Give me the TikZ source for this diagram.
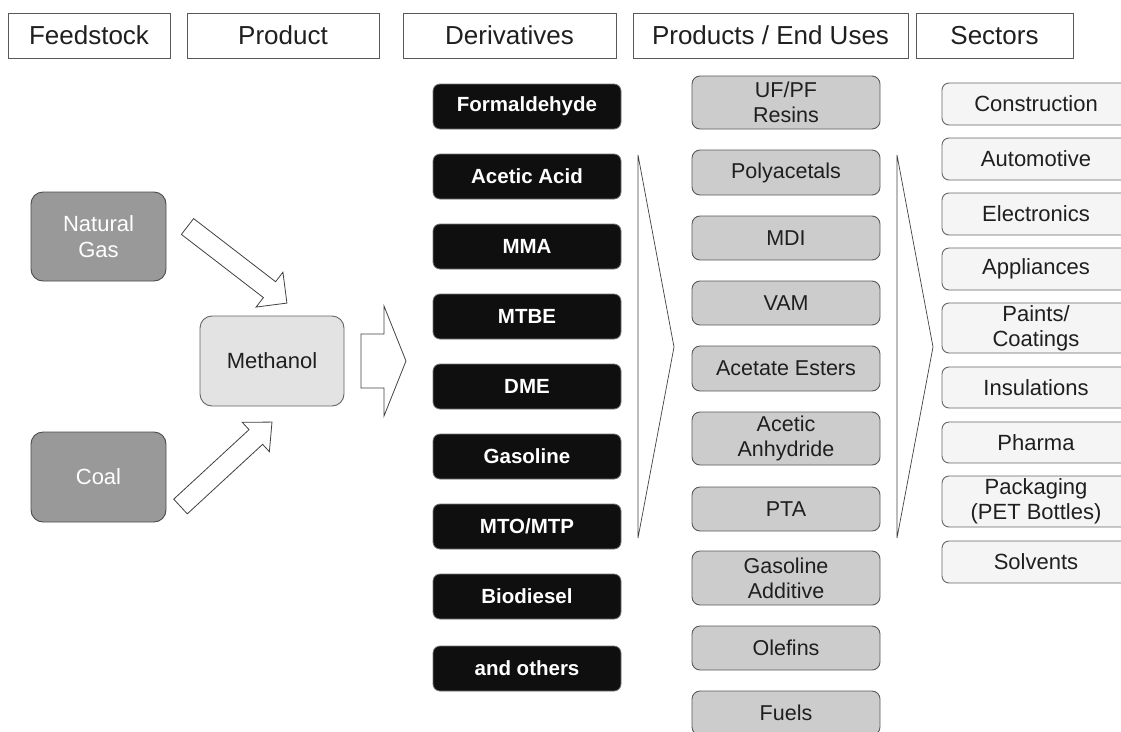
\documentclass[tikz,border=0pt]{standalone}
\usepackage{fontspec}
\setmainfont{Liberation Sans}
\tikzset{
  hdr/.style={draw=black!65, line width=1pt, fill=white, inner sep=0pt, minimum height=45pt,
    font=\fontsize{26}{30}\selectfont, text=black!88},
  deriv/.style={fill=black!94, draw=black!55, line width=0.8pt, rounded corners=7pt, inner sep=0pt,
    minimum width=188pt, minimum height=45pt, text=white, font=\bfseries\fontsize{20.5}{24}\selectfont},
  prod/.style={fill=black!20, draw=black!65, line width=0.9pt, rounded corners=8pt, inner sep=0pt,
    minimum width=188pt, align=center, text=black!88, font=\fontsize{21.5}{25}\selectfont},
  sect/.style={fill=black!4, draw=black!60, line width=0.9pt, rounded corners=7pt, inner sep=0pt,
    minimum width=188pt, align=center, text=black!88, font=\fontsize{22}{25}\selectfont},
  feed/.style={fill=black!40, draw=black!70, line width=0.9pt, rounded corners=12pt, inner sep=0pt,
    minimum width=135pt, align=center, text=white, font=\fontsize{22}{26}\selectfont},
  meth/.style={fill=black!11, draw=black!60, line width=0.9pt, rounded corners=12pt, inner sep=0pt,
    minimum width=144pt, minimum height=90pt, text=black!88, font=\fontsize{22}{26}\selectfont},
  blk/.style={draw=black!75, line width=0.8pt, fill=white, line join=miter},
  chev/.style={draw=black!75, line width=0.7pt}
}
\newcommand{\blockarrow}[7]{% x, y, angle, length, shaft half, head half, head length
  \draw[blk, shift={(#1,#2)}, rotate=#3]
    (0,-#5) -- ({#4-#7},-#5) -- ({#4-#7},-#6) -- (#4,0) -- ({#4-#7},#6) -- ({#4-#7},#5) -- (0,#5) -- cycle;}
\begin{document}
\begin{tikzpicture}[x=1pt,y=-1pt]
\useasboundingbox (0,0) rectangle (1121,731);
\clip (0,0) rectangle (1121,731);
% headers
\node[hdr, minimum width=162pt] (h1) at (89,35.5) {Feedstock};
\node[hdr, minimum width=192pt] (h2) at (283,35.5) {Product};
\node[hdr, minimum width=213pt] (h3) at (509.5,35.5) {Derivatives};
\node[hdr, minimum width=275pt] (h4) at (770.5,35.5) {Products / End Uses};
\node[hdr, minimum width=157pt] (h5) at (994.5,35.5) {Sectors};
% feedstock and product
\node[feed, minimum height=89pt] (ng) at (98.5,236.5) {Natural\\Gas};
\node[feed, minimum height=90pt] (coal) at (98.5,477) {Coal};
\node[meth] (meoh) at (272,361) {Methanol};
% block arrows
\blockarrow{187.5}{226.5}{-37.6}{125.5}{10}{22}{22}
\blockarrow{180.5}{506.5}{42.7}{124.5}{10}{20}{22}
\blockarrow{361}{361}{0}{45}{27}{55}{22}
% derivatives
\node[deriv] (d1) at (527,106.5) {Formaldehyde};
\node[deriv] (d2) at (527,176.5) {Acetic Acid};
\node[deriv] (d3) at (527,246.5) {MMA};
\node[deriv] (d4) at (527,316.5) {MTBE};
\node[deriv] (d5) at (527,386.5) {DME};
\node[deriv] (d6) at (527,456.5) {Gasoline};
\node[deriv] (d7) at (527,526.5) {MTO/MTP};
\node[deriv] (d8) at (527,596.5) {Biodiesel};
\node[deriv] (d9) at (527,668.5) {and others};
% chevrons
\draw[chev] (638,155) -- (674,347) -- (638,538) -- cycle;
\draw[chev] (897,155) -- (933,347) -- (897,538) -- cycle;
% products
\node[prod, minimum height=53pt] (p1) at (786,102.5) {UF/PF\\Resins};
\node[prod, minimum height=45pt] (p2) at (786,172.5) {Polyacetals};
\node[prod, minimum height=44pt] (p3) at (786,238) {MDI};
\node[prod, minimum height=44pt] (p4) at (786,303) {VAM};
\node[prod, minimum height=45pt] (p5) at (786,368.5) {Acetate Esters};
\node[prod, minimum height=53pt] (p6) at (786,438.5) {Acetic\\Anhydride};
\node[prod, minimum height=44pt] (p7) at (786,509) {PTA};
\node[prod, minimum height=54pt] (p8) at (786,578) {Gasoline\\Additive};
\node[prod, minimum height=44pt] (p9) at (786,648) {Olefins};
\node[prod, minimum height=44pt] (p10) at (786,713) {Fuels};
% sectors
\node[sect, minimum height=42pt] (s1) at (1036,104) {Construction};
\node[sect, minimum height=42pt] (s2) at (1036,159) {Automotive};
\node[sect, minimum height=42pt] (s3) at (1036,214) {Electronics};
\node[sect, minimum height=42pt] (s4) at (1036,269) {Appliances};
\node[sect, minimum height=50pt] (s5) at (1036,328) {Paints/\\Coatings};
\node[sect, minimum height=41pt] (s6) at (1036,387.5) {Insulations};
\node[sect, minimum height=41pt] (s7) at (1036,442.5) {Pharma};
\node[sect, minimum height=51pt] (s8) at (1036,501.5) {Packaging\\(PET Bottles)};
\node[sect, minimum height=42pt] (s9) at (1036,562) {Solvents};
\end{tikzpicture}
\end{document}
